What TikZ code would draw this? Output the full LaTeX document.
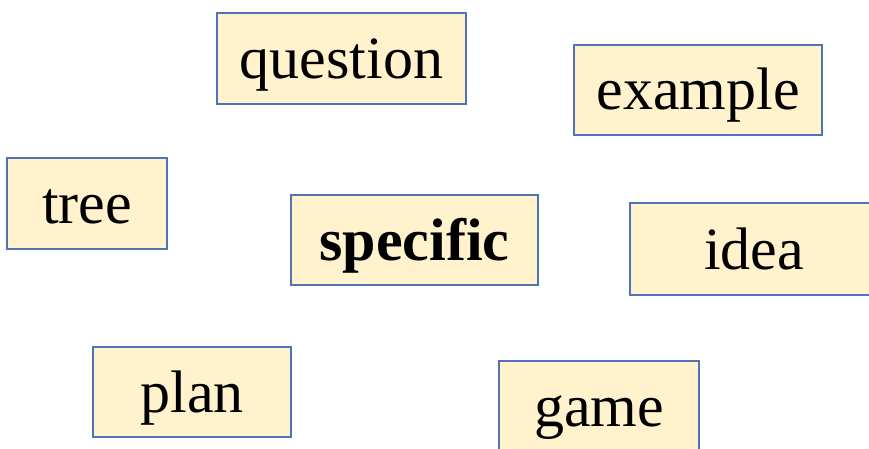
\documentclass[tikz,border=0pt]{standalone}
\usepackage{fontspec}
\setmainfont{Liberation Serif}
\definecolor{boxfill}{HTML}{FFF2CC}
\definecolor{boxline}{HTML}{4F72B8}
\begin{document}
\begin{tikzpicture}[x=1pt,y=-1pt,
  wordbox/.style={draw=boxline, fill=boxfill, line width=1.2pt, inner sep=0pt,
    text height=46pt, text depth=6pt,
    font=\fontsize{60}{62}\selectfont, text=black}]
\useasboundingbox (0,0) rectangle (869,449);
\clip (0,0) rectangle (869,449);
\node[wordbox, minimum width=249pt, minimum height=91pt] (question) at (341.5,58.5) {question};
\node[wordbox, minimum width=248pt, minimum height=90pt] (example) at (698,90) {example};
\node[wordbox, minimum width=160pt, minimum height=91pt] (tree) at (87,203.5) {tree};
\node[wordbox, minimum width=247pt, minimum height=90pt] (specific) at (414.5,240) {\bfseries specific};
\node[wordbox, minimum width=248pt, minimum height=92pt] (idea) at (754,249) {idea};
\node[wordbox, minimum width=198pt, minimum height=90pt] (plan) at (192,392) {plan};
\node[wordbox, minimum width=200pt, minimum height=90pt] (game) at (599,406) {game};
\end{tikzpicture}
\end{document}
